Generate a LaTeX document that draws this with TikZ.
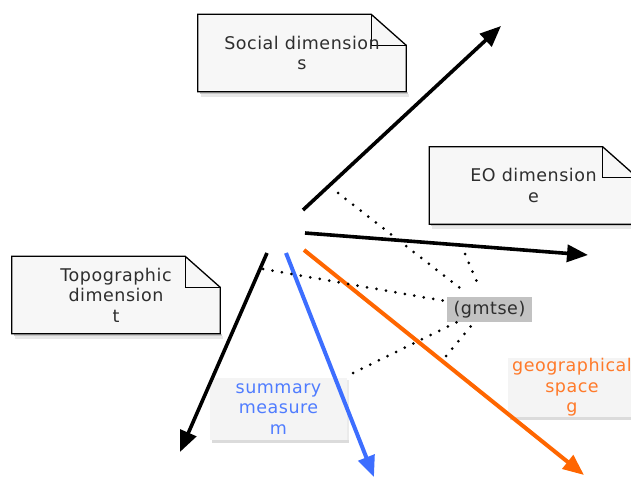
\documentclass[tikz,border=0pt]{standalone}
\usepackage{fontspec}
\setmainfont{DejaVu Sans}[LetterSpace=3]
\usetikzlibrary{arrows.meta,backgrounds}

\definecolor{notefill}{HTML}{F7F7F7}
\definecolor{notetext}{HTML}{2E2E2E}
\definecolor{labelfill}{HTML}{F4F4F4}
\definecolor{keyfill}{HTML}{C2C2C2}
\definecolor{mblue}{HTML}{3D6EFF}
\definecolor{mbluetext}{HTML}{4F7CFF}
\definecolor{gorange}{HTML}{FF6600}
\definecolor{gorangetext}{HTML}{FF7A2A}

\begin{document}
\begin{tikzpicture}[
      x=1pt, y=-1pt,
      >={Triangle[length=21pt,width=17pt]},
      every node/.style={font=\fontsize{17.5}{20.5}\selectfont, text=notetext, inner sep=0pt},
      notebox/.style={minimum width=208pt, minimum height=77pt, align=center},
      labelbox/.style={fill=labelfill, align=center},
      keybox/.style={fill=keyfill, minimum width=85pt, minimum height=25pt},
      axis/.style={->, line width=3.6pt},
      link/.style={line width=3pt, line cap=round, dash pattern=on 0pt off 9.6pt}
    ]
      \useasboundingbox (0,0) rectangle (631,478);

      % notes
      \node[notebox] (social) at (302,53) {Social dimension\\s};
      \node[notebox] (eo) at (533.5,185.5) {EO dimension\\e};
      \node[notebox] (topo) at (116,295) {Topographic\\dimension\\t};

      % labels on the axes
      \node[labelbox, text=mbluetext, minimum width=137pt, minimum height=62pt] (summary) at (278.5,409) {summary\\measure\\m};
      \node[labelbox, text=gorangetext, minimum width=128pt, minimum height=59pt] (geo) at (572,387.5) {geographical\\space\\g};
      \node[keybox] (gmtse) at (489.5,309.5) {(gmtse)};

      \begin{scope}[on background layer]
        \foreach \n in {social,eo,topo} {
          \fill[black!22] ([xshift=2pt]\n.south west) rectangle ([xshift=2pt,yshift=-2pt]\n.south east);
          \fill[black!9] ([xshift=3pt,yshift=-2pt]\n.south west) rectangle ([xshift=3pt,yshift=-5pt]\n.south east);
          \draw[line width=1.3pt, fill=notefill] (\n.south west) -- (\n.north west) -- ([xshift=-35pt]\n.north east)
            -- ([yshift=-31pt]\n.north east) -- (\n.south east) -- cycle;
          \draw[line width=1.3pt] ([xshift=-35pt]\n.north east) |- ([yshift=-31pt]\n.north east);
        }
        \foreach \n in {summary,geo} {
          \fill[black!14] ([xshift=2pt]\n.south west) rectangle ([xshift=2pt,yshift=-3pt]\n.south east);
          \fill[black!8] ([yshift=-2pt]\n.north east) rectangle ([xshift=2pt]\n.south east);
        }
      \end{scope}

      % axes
      \coordinate (s0) at (303,210);
      \coordinate (s1) at (501,26);
      \coordinate (e0) at (305,233);
      \coordinate (e1) at (588,255);
      \coordinate (t0) at (267,253);
      \coordinate (t1) at (180,452);
      \coordinate (m0) at (286,253);
      \coordinate (m1) at (374,477);
      \coordinate (g0) at (304,250);
      \coordinate (g1) at (584,475);

      \draw[axis] (s0) -- (s1);
      \draw[axis] (e0) -- (e1);
      \draw[axis] (t0) -- (t1);
      \draw[axis, mblue, line width=4pt] (m0) -- (m1);
      \draw[axis, gorange, line width=4pt] (g0) -- (g1);

      % dotted links to (gmtse)
      \coordinate (ls) at (338,193);
      \coordinate (le) at (465,254);
      \coordinate (lt) at (263,269);
      \coordinate (lm) at (353,373);
      \coordinate (lg) at (446,356);

      \draw[link] (ls) -- ([xshift=18pt,yshift=5pt]gmtse.north west);
      \draw[link] (le) -- ([xshift=33pt,yshift=8pt]gmtse.north west);
      \draw[link] (lt) -- ([xshift=-3pt,yshift=-4pt]gmtse.north west);
      \draw[link] (lm) -- ([xshift=10pt]gmtse.south west);
      \draw[link] (lg) -- ([xshift=24pt,yshift=-4pt]gmtse.south west);
    \end{tikzpicture}
\end{document}
